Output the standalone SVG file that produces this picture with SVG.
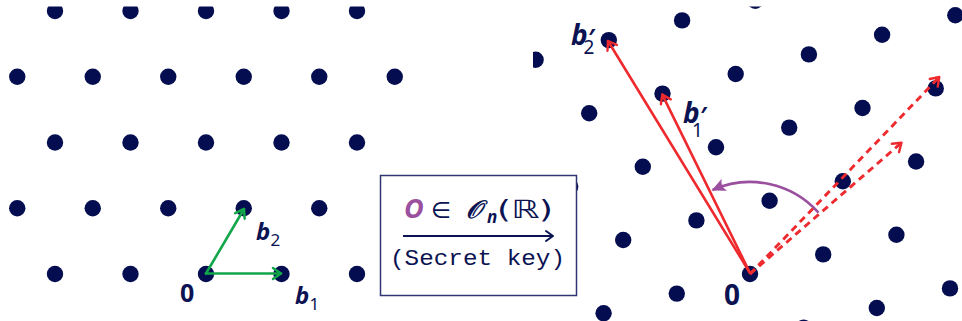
<svg xmlns="http://www.w3.org/2000/svg" width="962" height="321" viewBox="0 0 962 321">
<style>
.dot{fill:#030d4f}
.lbl{font-family:"Noto Sans","DejaVu Sans",sans-serif;fill:#0b1352}
.bi{font-weight:700;font-style:italic}
.bold{font-weight:700}
.sub{font-weight:400;font-style:normal}
.prime{font-weight:700;font-style:normal}
.green{fill:none;stroke:#12a64a;stroke-width:2.6;stroke-linecap:round}
.red{fill:none;stroke:#ee2a2e;stroke-width:2.6;stroke-linecap:round}
.reddash{fill:none;stroke:#ee2a2e;stroke-width:2.9;stroke-dasharray:7 5}
.purple{fill:none;stroke:#9b4f9f;stroke-width:2.6}
</style>
<defs>
<clipPath id="clipL"><rect x="0" y="6.5" width="410" height="315"/></clipPath>
<clipPath id="clipR"><rect x="533" y="6.5" width="429" height="315"/></clipPath>
<marker id="mGreen" viewBox="-12 -10 20 20" markerWidth="20" markerHeight="20" markerUnits="userSpaceOnUse" refX="0" refY="0" orient="auto" overflow="visible"><path d="M-8,-5.5 L0,0 L-8,5.5" fill="none" stroke="#12a64a" stroke-width="2.5" stroke-linecap="round" stroke-linejoin="round"/></marker>
<marker id="mRed" viewBox="-12 -10 20 20" markerWidth="20" markerHeight="20" markerUnits="userSpaceOnUse" refX="0" refY="0" orient="auto" overflow="visible"><path d="M-8,-5.5 L0,0 L-8,5.5" fill="none" stroke="#ee2a2e" stroke-width="2.4" stroke-linecap="round" stroke-linejoin="round" stroke-dasharray="none"/></marker>
<marker id="mNavy" viewBox="-12 -10 20 20" markerWidth="20" markerHeight="20" markerUnits="userSpaceOnUse" refX="0" refY="0" orient="auto" overflow="visible"><path d="M-7,-5 L0,0 L-7,5" fill="none" stroke="#0b1352" stroke-width="2" stroke-linecap="round" stroke-linejoin="round"/></marker>
<marker id="mPurple" viewBox="-16 -10 20 20" markerWidth="20" markerHeight="20" markerUnits="userSpaceOnUse" refX="0" refY="0" orient="auto" overflow="visible"><path d="M1,0 L-13,-6.5 Q-8,0 -13,6.5 Z" fill="#9b4f9f"/></marker>
</defs>

<g id="left-lattice" clip-path="url(#clipL)">
<circle class="dot" cx="55" cy="11" r="8.2"/><circle class="dot" cx="130.5" cy="11" r="8.2"/><circle class="dot" cx="206" cy="11" r="8.2"/><circle class="dot" cx="281.5" cy="11" r="8.2"/><circle class="dot" cx="357" cy="11" r="8.2"/>
<circle class="dot" cx="17.25" cy="76.75" r="8.2"/><circle class="dot" cx="92.75" cy="76.75" r="8.2"/><circle class="dot" cx="168.25" cy="76.75" r="8.2"/><circle class="dot" cx="243.75" cy="76.75" r="8.2"/><circle class="dot" cx="319.25" cy="76.75" r="8.2"/><circle class="dot" cx="394.75" cy="76.75" r="8.2"/>
<circle class="dot" cx="55" cy="142.5" r="8.2"/><circle class="dot" cx="130.5" cy="142.5" r="8.2"/><circle class="dot" cx="206" cy="142.5" r="8.2"/><circle class="dot" cx="281.5" cy="142.5" r="8.2"/><circle class="dot" cx="357" cy="142.5" r="8.2"/>
<circle class="dot" cx="17.25" cy="208.25" r="8.2"/><circle class="dot" cx="92.75" cy="208.25" r="8.2"/><circle class="dot" cx="168.25" cy="208.25" r="8.2"/><circle class="dot" cx="243.75" cy="208.25" r="8.2"/><circle class="dot" cx="319.25" cy="208.25" r="8.2"/><circle class="dot" cx="394.75" cy="208.25" r="8.2"/>
<circle class="dot" cx="55" cy="274" r="8.2"/><circle class="dot" cx="130.5" cy="274" r="8.2"/><circle class="dot" cx="206" cy="274" r="8.2"/><circle class="dot" cx="281.5" cy="274" r="8.2"/><circle class="dot" cx="357" cy="274" r="8.2"/>
</g>

<g id="right-lattice" clip-path="url(#clipR)">
<circle class="dot" cx="803.6" cy="327.6" r="8.2"/><circle class="dot" cx="876.8" cy="308" r="8.2"/><circle class="dot" cx="950" cy="288.4" r="8.2"/>
<circle class="dot" cx="603.6" cy="313.2" r="8.2"/><circle class="dot" cx="676.8" cy="293.6" r="8.2"/><circle class="dot" cx="750" cy="274" r="8.2"/><circle class="dot" cx="823.2" cy="254.4" r="8.2"/><circle class="dot" cx="896.4" cy="234.8" r="8.2"/>
<circle class="dot" cx="549.9" cy="259.7" r="8.2"/><circle class="dot" cx="623.2" cy="240" r="8.2"/><circle class="dot" cx="696.4" cy="220.4" r="8.2"/><circle class="dot" cx="769.6" cy="200.8" r="8.2"/><circle class="dot" cx="842.8" cy="181.2" r="8.2"/><circle class="dot" cx="916.1" cy="161.5" r="8.2"/>
<circle class="dot" cx="570.2" cy="186.5" r="8.2"/><circle class="dot" cx="642.8" cy="166.8" r="8.2"/><circle class="dot" cx="716" cy="147.2" r="8.2"/><circle class="dot" cx="789.2" cy="127.6" r="8.2"/><circle class="dot" cx="862.5" cy="108" r="8.2"/><circle class="dot" cx="935.7" cy="88.4" r="8.2"/>
<circle class="dot" cx="589.2" cy="113.3" r="8.2"/><circle class="dot" cx="662.5" cy="93.6" r="8.2"/><circle class="dot" cx="735.7" cy="74" r="8.2"/><circle class="dot" cx="808.9" cy="54.4" r="8.2"/><circle class="dot" cx="882.1" cy="34.8" r="8.2"/><circle class="dot" cx="955.3" cy="15.2" r="8.2"/>
<circle class="dot" cx="535.6" cy="59.7" r="8.2"/><circle class="dot" cx="608.8" cy="40.1" r="8.2"/><circle class="dot" cx="682.1" cy="20.4" r="8.2"/><circle class="dot" cx="755.3" cy="0.8" r="8.2"/>
</g>

<g id="key-box">
<rect x="380.5" y="175.5" width="196" height="120" fill="#ffffff" stroke="#2e3570" stroke-width="1.5"/>
<text x="404" y="218" font-family="'Noto Sans','DejaVu Sans',sans-serif" font-size="27" font-weight="700" font-style="italic" fill="#9b4f9f">O</text>
<text x="431" y="218" font-family="'DejaVu Sans',sans-serif" font-size="23" fill="#0b1352">∈</text>
<text x="466" y="218" font-family="'DejaVu Serif','DejaVu Sans',serif" font-size="25" font-weight="700" font-style="italic" fill="#0b1352">𝒪</text>
<text x="487" y="223" font-family="'Noto Sans','DejaVu Sans',sans-serif" font-size="17" font-weight="700" font-style="italic" fill="#0b1352">n</text>
<text x="497" y="218" font-family="'DejaVu Sans',sans-serif" font-size="25" fill="#0b1352" textLength="56" lengthAdjust="spacingAndGlyphs">(ℝ)</text>
<path d="M403,236 L553,236" fill="none" stroke="#0b1352" stroke-width="2" marker-end="url(#mNavy)"/>
<text x="390" y="265" font-family="'Liberation Mono','DejaVu Sans Mono',monospace" font-size="22" fill="#0b1352" textLength="175" lengthAdjust="spacingAndGlyphs">(Secret key)</text>
</g>

<g id="connectors">
<path class="green" d="M206,273.5 L281,273.5" marker-end="url(#mGreen)"/>
<path class="green" d="M206,273.5 L244,209" marker-end="url(#mGreen)"/>
<path class="red" d="M750,273 L662.3,94.6" marker-end="url(#mRed)"/>
<path class="red" d="M750,273 L608,41" marker-end="url(#mRed)"/>
<path class="reddash" d="M750,274 L901.5,142.7" marker-end="url(#mRed)"/>
<path class="reddash" d="M750,274 L939.3,77" marker-end="url(#mRed)"/>
<path class="purple" d="M818.5,212.6 A92,92 0 0 0 712.5,190" marker-end="url(#mPurple)"/>
</g>

<g id="labels" class="lbl">
<text x="180" y="302" font-size="25" class="bold">0</text>
<text x="256" y="240" font-size="24" class="bi">b<tspan class="sub" font-size="17" x="270.5" y="245.5">2</tspan></text>
<text x="295" y="303.5" font-size="24" class="bi">b<tspan class="sub" font-size="17" x="309.5" y="310">1</tspan></text>
<text x="571" y="45" font-size="28" class="bi">b<tspan class="prime" font-size="24" x="588" y="46">′</tspan><tspan class="sub" font-size="19" x="583.5" y="53.5">2</tspan></text>
<text x="683" y="123" font-size="28" class="bi">b<tspan class="prime" font-size="24" x="700" y="124">′</tspan><tspan class="sub" font-size="19" x="692" y="137">1</tspan></text>
<text x="724" y="305" font-size="28" class="bold">0</text>
</g>
</svg>
